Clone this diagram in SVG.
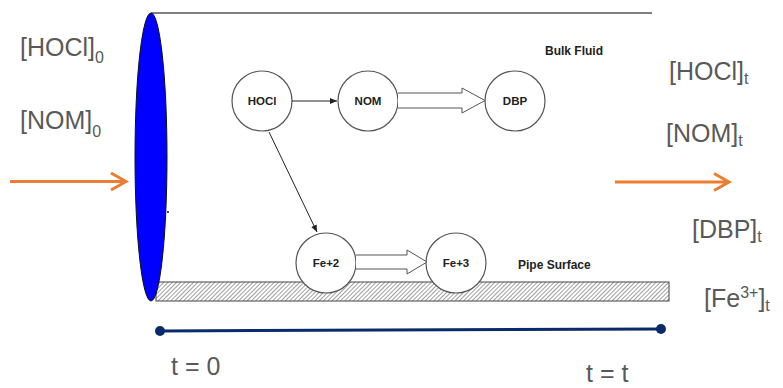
<svg xmlns="http://www.w3.org/2000/svg" width="783" height="388" viewBox="0 0 783 388">
<style>
.lbl{font-family:"Liberation Sans",Arial,sans-serif;font-size:25px;fill:#595959}
.sub{font-size:16px}
.nd{fill:#fff;stroke:#555;stroke-width:1.2}
.nt{font-family:"Liberation Sans",Arial,sans-serif;font-size:11.5px;font-weight:bold;fill:#222;text-anchor:middle}
.bt{font-family:"Liberation Sans",Arial,sans-serif;font-size:12px;font-weight:bold;fill:#222}
.ln{stroke:#222;stroke-width:1;fill:none}
.blk{fill:#fff;stroke:#555;stroke-width:1}
.or{stroke:#ED7D31;stroke-width:3;fill:none}
</style>
<defs>
<pattern id="hatch" width="3" height="3" patternUnits="userSpaceOnUse" patternTransform="rotate(45)">
<rect width="3" height="3" fill="#fff"/>
<line x1="0" y1="0" x2="0" y2="3" stroke="#777" stroke-width="1.4"/>
</pattern>
<marker id="ah" markerWidth="8" markerHeight="8" refX="7" refY="4" orient="auto" markerUnits="userSpaceOnUse">
<path d="M0,1 L7,4 L0,7 Z" fill="#222"/>
</marker>
</defs>
<g id="pipe">
<line x1="151" y1="13" x2="652" y2="13" stroke="#555" stroke-width="1.5"/>
<rect x="156" y="282" width="513" height="19" fill="url(#hatch)" stroke="#444" stroke-width="1"/>
<ellipse cx="151" cy="157" rx="16" ry="144" fill="#0000FF" stroke="#111" stroke-width="1"/>
<circle cx="168" cy="212" r="1" fill="#111"/>
</g>
<g id="labels-left">
<text class="lbl" x="20" y="56">[HOCl]<tspan class="sub" dy="7">0</tspan></text>
<text class="lbl" x="20" y="129">[NOM]<tspan class="sub" dy="8">0</tspan></text>
</g>
<g id="labels-right">
<text class="lbl" x="669" y="80">[HOCl]<tspan class="sub" dy="4">t</tspan></text>
<text class="lbl" x="666" y="142">[NOM]<tspan class="sub" dy="4">t</tspan></text>
<text class="lbl" x="692" y="238">[DBP]<tspan class="sub" dy="4">t</tspan></text>
<text class="lbl" x="704" y="307">[Fe<tspan class="sub" dy="-9">3+</tspan><tspan dy="9">]</tspan><tspan class="sub" dy="4">t</tspan></text>
</g>
<g id="region-labels">
<text class="bt" x="545" y="55">Bulk Fluid</text>
<text class="bt" x="518" y="269">Pipe Surface</text>
</g>
<g id="node-hocl"><circle class="nd" cx="262" cy="101" r="30"/><text class="nt" x="262" y="105">HOCl</text></g>
<g id="node-nom"><circle class="nd" cx="368" cy="101" r="30"/><text class="nt" x="368" y="105">NOM</text></g>
<g id="node-dbp"><circle class="nd" cx="515" cy="101" r="30"/><text class="nt" x="515" y="105">DBP</text></g>
<g id="node-fe2"><circle class="nd" cx="326" cy="263" r="30"/><text class="nt" x="326" y="267">Fe+2</text></g>
<g id="node-fe3"><circle class="nd" cx="456" cy="263" r="30"/><text class="nt" x="456" y="267">Fe+3</text></g>
<g id="connectors">
<line class="ln" x1="292" y1="101" x2="337" y2="101" marker-end="url(#ah)"/>
<line class="ln" x1="269" y1="132" x2="317" y2="232" marker-end="url(#ah)"/>
<path class="blk" d="M398,93 L462,93 L462,88 L485,100.5 L462,113 L462,108 L398,108"/>
<path class="blk" d="M356,255 L407,255 L407,250 L427,262 L407,274 L407,269 L356,269"/>
<path class="or" d="M10,181.5 L125,181.5 M111,173 L126,181.5 L111,190"/>
<path class="or" d="M615,182 L728,182 M714,173.5 L729,182 L714,190.5"/>
</g>
<g id="timeline">
<line x1="160" y1="331" x2="661" y2="329" stroke="#0B2A6B" stroke-width="3"/>
<circle cx="160" cy="331" r="5" fill="#0B2A6B"/>
<circle cx="661" cy="329" r="5" fill="#0B2A6B"/>
<text class="lbl" x="171" y="375">t = 0</text>
<text class="lbl" x="586" y="382">t = t</text>
</g>
</svg>
